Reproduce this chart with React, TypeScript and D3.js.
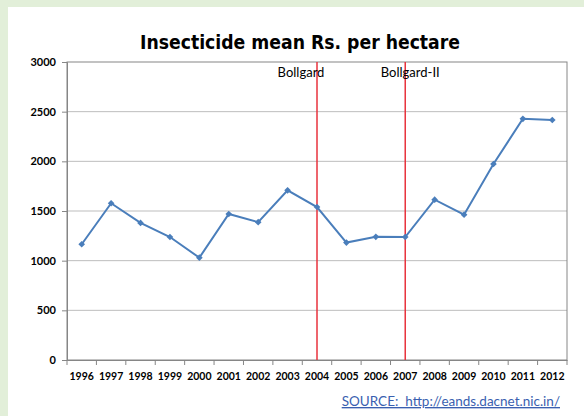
import * as d3 from 'd3';
import React, { useEffect, useRef } from 'react';

const years = ['1996', '1997', '1998', '1999', '2000', '2001', '2002', '2003', '2004',
  '2005', '2006', '2007', '2008', '2009', '2010', '2011', '2012'];
const insecticide = [1165, 1578, 1380, 1238, 1030, 1470, 1388, 1708, 1540,
  1182, 1240, 1238, 1614, 1463, 1973, 2428, 2416];
const yTicks = [0, 500, 1000, 1500, 2000, 2500, 3000];
const markers = [
  { year: '2004', label: 'Bollgard' },
  { year: '2007', label: 'Bollgard-II' },
];

const App: React.FC = () => {
  const svgRef = useRef<SVGSVGElement>(null);
  const width = 584;
  const height = 416;

  useEffect(() => {
    if (!svgRef.current) return;
    const svg = d3.select(svgRef.current);
    svg.selectAll('*').remove();

    // slide background
    svg.append('rect').attr('width', width).attr('height', height).attr('fill', '#e2efd9');
    svg.append('rect').attr('x', 8).attr('y', 7).attr('width', width - 8).attr('height', height - 7).attr('fill', '#ffffff');

    const margin = { top: 62, right: 17, bottom: 56, left: 67 };
    const innerWidth = width - margin.left - margin.right;
    const innerHeight = height - margin.top - margin.bottom;

    const g = svg.append('g').attr('transform', `translate(${margin.left},${margin.top})`);

    const x = d3.scaleBand().domain(years).range([0, innerWidth]);
    const y = d3.scaleLinear().domain([0, 3000]).range([innerHeight, 0]);

    // grid
    g.selectAll('.grid')
      .data(yTicks.filter(t => t > 0 && t < 3000))
      .join('line')
      .attr('x1', 0).attr('x2', innerWidth)
      .attr('y1', d => y(d)).attr('y2', d => y(d))
      .attr('stroke', '#bdbdbd').attr('stroke-width', 1);

    // frame
    g.append('rect')
      .attr('width', innerWidth).attr('height', innerHeight)
      .attr('fill', 'none').attr('stroke', '#868686').attr('stroke-width', 1);

    // y axis
    const yAxis = g.append('g')
      .call(d3.axisLeft(y).tickValues(yTicks).tickSize(5).tickFormat(d3.format('d')));
    yAxis.select('.domain').attr('stroke', '#868686');
    yAxis.selectAll('line').attr('stroke', '#868686');
    yAxis.selectAll('text')
      .attr('x', -11)
      .style('font-family', 'Lato, "Open Sans", sans-serif')
      .style('font-size', '11px').style('font-weight', 'bold').attr('fill', '#000');

    // x axis
    const xAxis = g.append('g')
      .attr('transform', `translate(0,${innerHeight})`)
      .call(d3.axisBottom(x).tickSize(0).tickPadding(13));
    xAxis.select('.domain').attr('stroke', '#868686');
    xAxis.selectAll('text')
      .style('font-family', 'Lato, "Open Sans", sans-serif')
      .style('font-size', '10.5px').style('font-weight', 'bold').attr('fill', '#000');
    g.append('g')
      .selectAll('line')
      .data(d3.range(years.length + 1))
      .join('line')
      .attr('x1', i => i * x.step()).attr('x2', i => i * x.step())
      .attr('y1', innerHeight).attr('y2', innerHeight + 5)
      .attr('stroke', '#868686');

    // event lines
    markers.forEach(m => {
      const cx = (x(m.year) ?? 0) + x.bandwidth() / 2;
      g.append('line')
        .attr('x1', cx).attr('x2', cx).attr('y1', 0).attr('y2', innerHeight)
        .attr('stroke', '#e8323c').attr('stroke-width', 1.5);
    });
    g.append('text')
      .attr('x', (x('2004') ?? 0) + x.bandwidth() / 2 - 16)
      .attr('y', 15)
      .attr('text-anchor', 'middle')
      .style('font-family', 'Lato, "Open Sans", sans-serif')
      .style('font-size', '13px').attr('fill', '#000')
      .text(markers[0].label);
    g.append('text')
      .attr('x', (x('2007') ?? 0) + x.bandwidth() / 2 + 5)
      .attr('y', 15)
      .attr('text-anchor', 'middle')
      .style('font-family', 'Lato, "Open Sans", sans-serif')
      .style('font-size', '13px').attr('fill', '#000')
      .text(markers[1].label);

    // series line
    const pts = years.map((yr, i) => ({ yr, v: insecticide[i] }));
    const line = d3.line<{ yr: string; v: number }>()
      .x(d => (x(d.yr) ?? 0) + x.bandwidth() / 2)
      .y(d => y(d.v));
    g.append('path')
      .datum(pts)
      .attr('d', line)
      .attr('fill', 'none').attr('stroke', '#4a7ebb').attr('stroke-width', 2);

    const diamond = d3.symbol().type(d3.symbolSquare).size(22);
    g.selectAll('.pt')
      .data(pts)
      .join('path')
      .attr('transform', d => `translate(${(x(d.yr) ?? 0) + x.bandwidth() / 2},${y(d.v)}) rotate(45)`)
      .attr('d', diamond)
      .attr('fill', '#4a7ebb');

    // title
    svg.append('text')
      .attr('x', 300).attr('y', 49)
      .attr('text-anchor', 'middle')
      .attr('textLength', 320).attr('lengthAdjust', 'spacingAndGlyphs')
      .style('font-family', '"DejaVu Sans", Verdana, sans-serif')
      .style('font-size', '19px').style('font-weight', 'bold').attr('fill', '#000')
      .text('Insecticide mean Rs. per hectare');

    // source
    svg.append('text')
      .attr('x', 560).attr('y', 406)
      .attr('text-anchor', 'end')
      .style('white-space', 'pre')
      .style('font-family', 'Lato, "Open Sans", sans-serif')
      .style('font-size', '13.5px').style('text-decoration', 'underline')
      .attr('fill', '#3a5fb0')
      .text('SOURCE:  http://eands.dacnet.nic.in/');
  }, []);

  return (
    <div style={{ position: 'fixed', left: 0, top: 0 }}>
      <svg ref={svgRef} width={width} height={height} style={{ display: 'block' }} />
    </div>
  );
};

export default App;
